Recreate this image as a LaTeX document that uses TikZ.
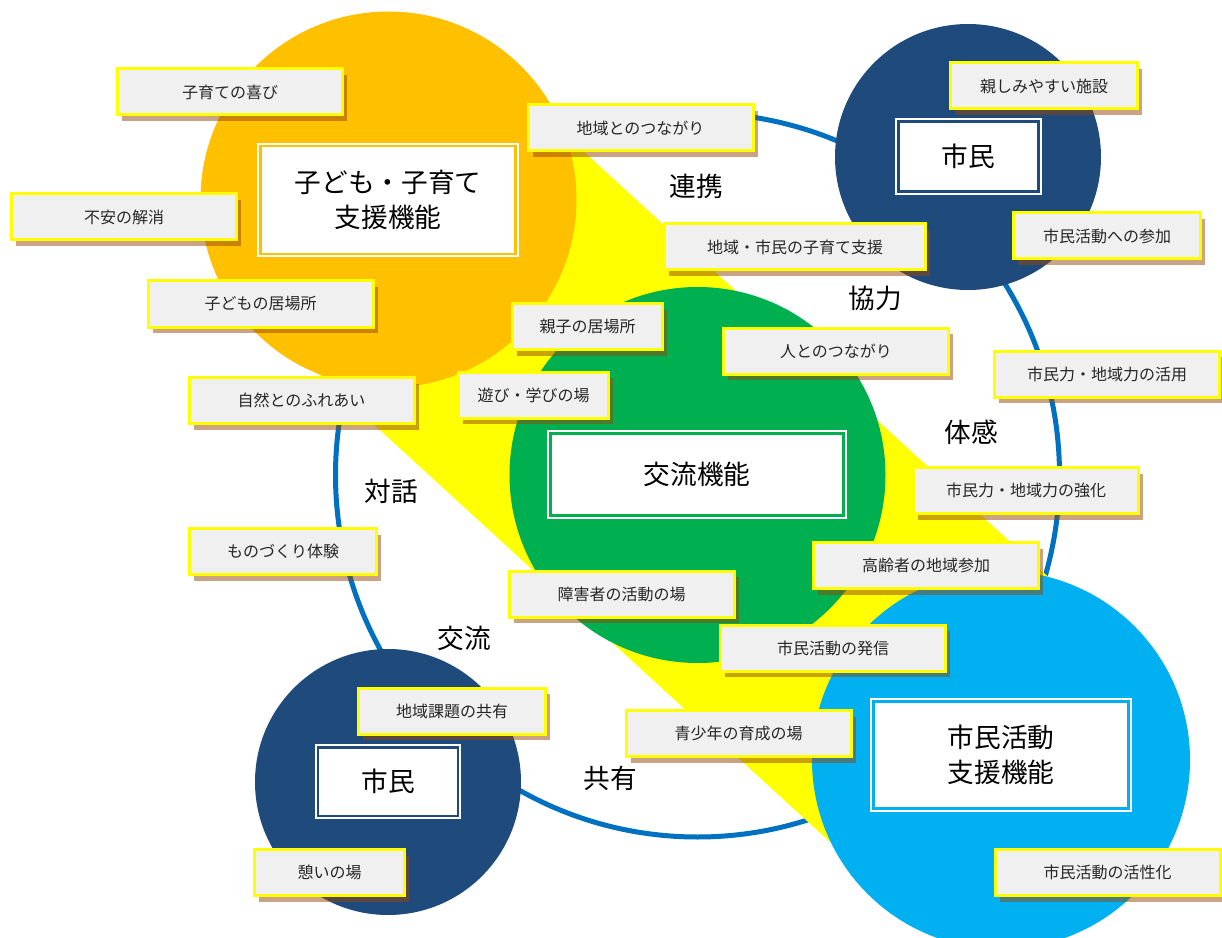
\documentclass[tikz,border=0pt]{standalone}
\usepackage{fontspec}
\newfontfamily\jp{Noto Sans CJK JP}
\usetikzlibrary{shadows}
\definecolor{orangeC}{HTML}{FFC000}
\definecolor{greenC}{HTML}{00B050}
\definecolor{skyC}{HTML}{00B0F0}
\definecolor{navyC}{HTML}{1F4A7C}
\definecolor{ringC}{HTML}{0070C0}
\definecolor{bandC}{HTML}{FFFF00}
\definecolor{lblfill}{HTML}{F0F0F0}
\definecolor{lblborder}{HTML}{FFFF00}
\definecolor{shadowC}{RGB}{150,70,10}
\definecolor{txt}{HTML}{262626}
\begin{document}
\begin{tikzpicture}[x=0.75pt,y=-0.75pt,
  lbl/.style={draw=lblborder, line width=2.25pt, fill=lblfill, inner sep=0pt,
    minimum height=34.5pt, font=\jp\fontsize{12pt}{14pt}\selectfont, text=txt,
    drop shadow={shadow xshift=3.4pt, shadow yshift=-4.6pt, fill=shadowC, opacity=0.5}},
  wA/.style={minimum width=168.75pt},
  wB/.style={minimum width=140.25pt},
  wC/.style={minimum width=112.5pt},
  wD/.style={minimum width=195.75pt},
  ringlbl/.style={font=\jp\fontsize{20pt}{24pt}\selectfont, text=black, inner sep=0pt},
  cbox/.style={fill=white, draw=white, double=#1, line width=1.5pt, double distance=2pt,
    inner sep=0pt, align=center, font=\jp\fontsize{20pt}{26pt}\selectfont, text=black}
]
\useasboundingbox (0,0) rectangle (1222,938);
\clip (0,0) rectangle (1222,938);
\fill[white] (0,0) rectangle (1222,938);

% big ring
\draw[ringC, line width=3.75pt] (697.5,475) circle [radius=271.5pt];

% yellow band
\fill[bandC] (504.3,79) -- (1116.8,639.5) -- (885.2,892.5) -- (272.7,332) -- cycle;

% circles
\fill[orangeC] (388.5,199.5) circle [radius=141pt];
\fill[navyC] (968,157) circle [radius=99.75pt];
\fill[greenC] (697.5,475) circle [radius=141pt];
\fill[skyC] (1001,760) circle [radius=141.75pt];
\fill[navyC] (388,782) circle [radius=99.75pt];

% centre boxes
\node[cbox=orangeC, minimum width=191.5pt, minimum height=81pt] (kosodate) at (388,200) {子ども・子育て\\支援機能};
\node[cbox=greenC, minimum width=220pt, minimum height=61.5pt] (koryu) at (697,474.5) {交流機能};
\node[cbox=navyC, minimum width=105pt, minimum height=52.5pt] (shiminA) at (968.5,156.5) {市民};
\node[cbox=navyC, minimum width=105pt, minimum height=51.5pt] (shiminB) at (388,781.5) {市民};
\node[cbox=skyC, minimum width=191.5pt, minimum height=80.5pt] (katsudo) at (1001,755) {市民活動\\支援機能};

% ring labels
\node[ringlbl] (renkei) at (696,186) {連携};
\node[ringlbl] (kyoryoku) at (875,298) {協力};
\node[ringlbl] (taikan) at (971,432) {体感};
\node[ringlbl] (taiwa) at (391,491) {対話};
\node[ringlbl] (koryuL) at (464,638) {交流};
\node[ringlbl] (kyoyu) at (610,778) {共有};

% labels
\node[lbl, wA] (l1) at (230,92) {子育ての喜び};
\node[lbl, wA] (l2) at (640.5,128) {地域とのつながり};
\node[lbl, wB] (l3) at (1044,86) {親しみやすい施設};
\node[lbl, wA] (l4) at (124,217) {不安の解消};
\node[lbl, wD] (l5) at (795,247) {地域・市民の子育て支援};
\node[lbl, wB] (l6) at (1107,236) {市民活動への参加};
\node[lbl, wA] (l7) at (260.5,304) {子どもの居場所};
\node[lbl, wC] (l8) at (587.5,326.5) {親子の居場所};
\node[lbl, wA] (l9) at (836,351) {人とのつながり};
\node[lbl, wA] (l10) at (1107,374) {市民力・地域力の活用};
\node[lbl, wA] (l11) at (301.5,400.5) {自然とのふれあい};
\node[lbl, wC] (l12) at (533.5,395) {遊び・学びの場};
\node[lbl, wA] (l13) at (1026,490.5) {市民力・地域力の強化};
\node[lbl, wB] (l14) at (283,551.5) {ものづくり体験};
\node[lbl, wA] (l15) at (926,565.5) {高齢者の地域参加};
\node[lbl, wA] (l16) at (621.5,594) {障害者の活動の場};
\node[lbl, wA] (l17) at (833,648) {市民活動の発信};
\node[lbl, wB] (l18) at (452,711) {地域課題の共有};
\node[lbl, wA] (l19) at (738.5,733.5) {青少年の育成の場};
\node[lbl, wC] (l20) at (329.5,872.5) {憩いの場};
\node[lbl, wA] (l21) at (1107.5,872.5) {市民活動の活性化};
\end{tikzpicture}
\end{document}
